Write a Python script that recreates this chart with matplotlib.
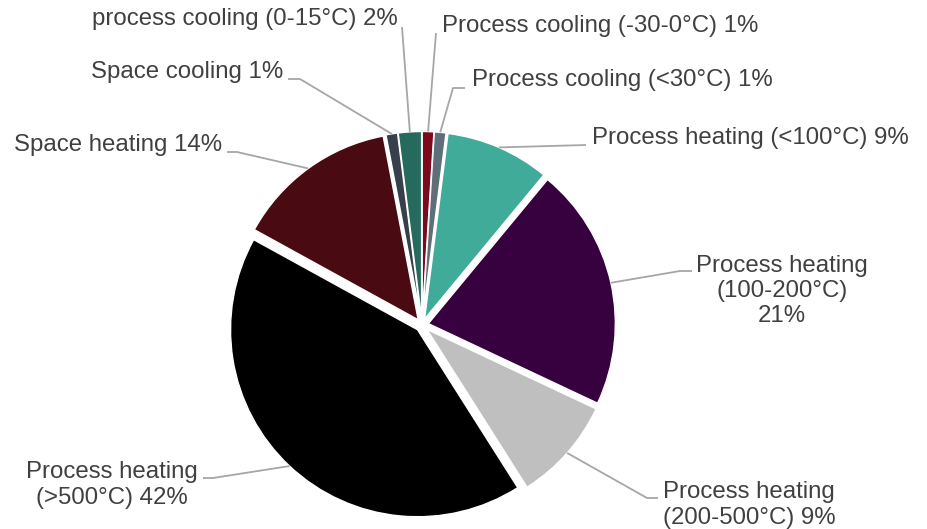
import numpy as np
import matplotlib
matplotlib.use("Agg")
import matplotlib.pyplot as plt

plt.rcParams['font.family'] = ['Liberation Sans', 'DejaVu Sans']

# Shares of energy demand by end use (clockwise from 12 o'clock)
categories = [
    "Process cooling (-30-0°C)",
    "Process cooling (<30°C)",
    "Process heating (<100°C)",
    "Process heating\n(100-200°C)\n",
    "Process heating\n(200-500°C)",
    "Process heating\n(>500°C)",
    "Space heating",
    "Space cooling",
    "process cooling (0-15°C)",
]
shares = [1, 1, 9, 21, 9, 42, 14, 1, 2]
colors = ["#7D0A1C", "#5F6E78", "#41AB9A", "#37003F", "#BFBFBF",
          "#000000", "#4A0A12", "#37404A", "#256A5C"]

W, H = 928, 529
fig = plt.figure(figsize=(W / 100, H / 100), dpi=100)
ax = fig.add_axes([0, 0, 1, 1])


def Y(py):
    return H - py


cx, cy, R = 422, 325, 187
wedges, _ = ax.pie(shares, colors=colors, startangle=90, counterclock=False,
                   explode=[6.5] * len(shares), radius=R, center=(cx, Y(cy)),
                   wedgeprops=dict(edgecolor="white", linewidth=1.0))
ax.set_xlim(0, W)
ax.set_ylim(0, H)
ax.axis("off")

# label placement: (x, y, ha, leader points before the rim)
layout = [
    (442, 26, "left", [(436, 33)]),
    (472, 80, "left", [(465, 88), (453, 88)]),
    (592, 138, "left", [(586, 145)]),
    (782, 291, "center", [(692, 271), (680, 271)]),
    (663, 505, "left", [(658, 498), (647, 498)]),
    (112, 485, "center", [(203, 478), (213, 478)]),
    (222, 145, "right", [(227, 152), (237, 152)]),
    (283, 72, "right", [(288, 79), (300, 79)]),
    (398, 19, "right", [(402, 27)]),
]

text_color = "#404040"
line_color = "#A6A6A6"
for w, cat, val, (tx, ty, ha, pts) in zip(wedges, categories, shares, layout):
    label = cat + f"{val}%" if cat.endswith("\n") else f"{cat} {val}%"
    ax.text(tx, Y(ty), label, ha=ha, va="center", fontsize=17.3,
            color=text_color, linespacing=1.2, multialignment=ha)
    mid = np.deg2rad(0.5 * (w.theta1 + w.theta2))
    wx, wy = w.center
    rim = (wx + R * np.cos(mid), wy + R * np.sin(mid))
    xs = [p[0] for p in pts] + [rim[0]]
    ys = [Y(p[1]) for p in pts] + [rim[1]]
    ax.plot(xs, ys, color=line_color, lw=1.3, solid_capstyle="butt")

fig.savefig("out.png", dpi=100)
